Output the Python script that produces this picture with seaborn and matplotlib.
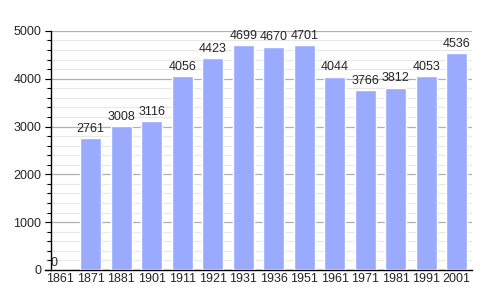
import matplotlib
matplotlib.use("Agg")
import matplotlib.pyplot as plt
import seaborn as sns
import pandas as pd
from matplotlib.ticker import MultipleLocator

years = ["1861", "1871", "1881", "1901", "1911", "1921", "1931", "1936", "1951", "1961", "1971", "1981", "1991", "2001"]
population = [0, 2761, 3008, 3116, 4056, 4423, 4699, 4670, 4701, 4044, 3766, 3812, 4053, 4536]

sns.set_theme(style="white")
plt.rcParams['font.family'] = ['Liberation Sans', 'DejaVu Sans']

df = pd.DataFrame({"year": years, "pop": population})

fig = plt.figure(figsize=(5, 3), dpi=100)
ax = fig.add_axes([0.09, 0.1, 0.854, 0.797])

sns.barplot(data=df, x="year", y="pop", color="#99aaff", saturation=1, width=0.7, ax=ax, zorder=3)

ax.set_ylim(0, 5000)
ax.set_xlim(-0.5, len(years) - 0.5)
ax.yaxis.set_major_locator(MultipleLocator(1000))
ax.yaxis.set_minor_locator(MultipleLocator(200))
ax.grid(which="major", axis="y", color="#b0b0b0", linewidth=0.9, zorder=0)
ax.grid(which="minor", axis="y", color="#e8e8e8", linewidth=0.8, zorder=0)
ax.set_axisbelow(True)

for s in ["top", "right"]:
    ax.spines[s].set_visible(False)
for s in ["left", "bottom"]:
    ax.spines[s].set_color("black")
    ax.spines[s].set_linewidth(1.0)
ax.spines["left"].set_position(("axes", 6 / 427))

ax.tick_params(axis="y", which="major", direction="out", length=4, width=0.8, color="black", labelsize=9, pad=3, left=True)
ax.tick_params(axis="y", which="minor", direction="out", length=3, width=0.8, color="black", left=True)
ax.tick_params(axis="x", which="major", length=0, labelsize=9, pad=2)
ax.set_xlabel("")
ax.set_ylabel("")

for i, v in enumerate(population):
    if v == 0:
        ax.text(i - 0.22, v + 20, str(v), ha="center", va="bottom", fontsize=9)
    else:
        ax.text(i, v + 70, str(v), ha="center", va="bottom", fontsize=9)

fig.savefig("out.png", dpi=100)
